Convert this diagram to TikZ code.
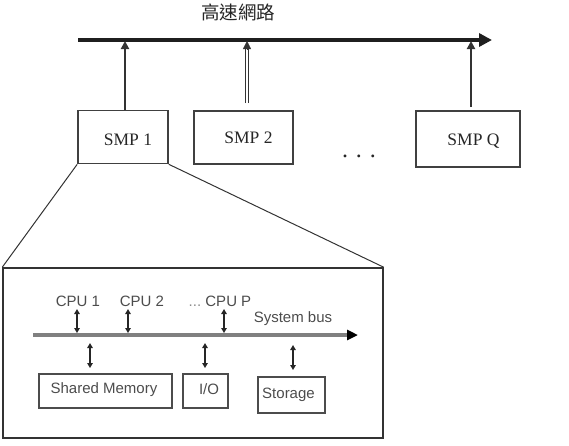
\documentclass[tikz,border=0pt]{standalone}
\usepackage{fontspec}
\setmainfont{Liberation Serif}
\newfontfamily\arialf{Liberation Sans}
\newfontfamily\cjkf{Noto Sans CJK TC}
\usetikzlibrary{arrows.meta}
\begin{document}
\begin{tikzpicture}[x=1pt,y=-1pt,
  smpbox/.style={draw=black!75,line width=1.6pt,minimum width=#1,minimum height=53pt,inner sep=0pt},
  smplab/.style={inner sep=0pt,text=black!85,font=\fontsize{17.5}{18}\selectfont},
  inbox/.style={draw=black!70,line width=1.5pt,inner sep=0pt},
  lab/.style={font=\arialf\fontsize{15}{15}\selectfont,text=black!70,inner sep=0pt},
  uparr/.style={line width=2.4pt,black!80,-{Triangle[length=8pt,width=8pt]}},
  dbl/.style={line width=1.6pt,black!85,{Triangle[length=5pt,width=5.5pt]}-{Triangle[length=5pt,width=5.5pt]}}]
\useasboundingbox (0,0) rectangle (569,445);
\node[font=\cjkf\fontsize{18.5}{18.5}\selectfont,text=black!85] (title) at (238,12) {高速網路};
% top bus
\coordinate (busL) at (78,40);
\coordinate (busR) at (492,40);
\draw[line width=4pt,black!88,-{Triangle[length=13pt,width=13pt]}] (busL) -- (busR);
% SMP boxes
\node[smpbox=90pt] (s1) at (123,137) {};
\node[smpbox=99pt] (s2) at (243.5,137.5) {};
\node[smpbox=104pt,minimum height=56pt] (sq) at (468,139) {};
\node[smplab] (l1) at (128,140) {SMP 1};
\node[smplab] (l2) at (248.5,138) {SMP 2};
\node[smplab] (lq) at (473.5,141) {SMP Q};
\node[font=\fontsize{24}{24}\selectfont,text=black!85] (dots) at (359,156) {. . .};
\coordinate (a1) at (125,41);
\coordinate (a2) at (247,41);
\coordinate (aq) at (471,41);
\coordinate (a2b) at (247,103);
\draw[uparr] (s1.north -| a1) -- (a1);
\draw[line width=1pt,black!80] ([xshift=-1.6pt]a2b) -- ([xshift=-1.6pt,yshift=-7pt]a2);
\draw[line width=1pt,black!80] ([xshift=1.6pt]a2b) -- ([xshift=1.6pt,yshift=-7pt]a2);
\draw[line width=0.1pt,black!80,-{Triangle[length=8pt,width=8pt]}] ([yshift=-8pt]a2) -- (a2);
\draw[uparr] (471,107) -- (aq);
% big box
\node[draw=black!80,line width=1.5pt,minimum width=380pt,minimum height=170pt,inner sep=0pt] (big) at (193,353) {};
\draw[black!80,line width=1pt] (s1.south west) -- (big.north west);
\draw[black!80,line width=1pt] (s1.south east) -- (big.north east);
% inner bus
\coordinate (ibL) at (33,335);
\coordinate (ibR) at (358,335);
\draw[line width=3.6pt,black!50,-{Triangle[length=11pt,width=10pt,fill=black,color=black]}] (ibL) -- (ibR);
\node[lab] (c1) at (78,301) {CPU 1};
\node[lab] (c2) at (142,301) {CPU 2};
\node[lab] (cp) at (220,301) {\textcolor{black!45}{...}\ CPU P};
\node[lab] (sb) at (293,319) {System bus};
\coordinate (c1b) at (77,333);
\coordinate (c2b) at (128,333);
\coordinate (cpb) at (224,333);
\draw[dbl] (77,309) -- (c1b);
\draw[dbl] (128,309) -- (c2b);
\draw[dbl] (224,309) -- (cpb);
% bottom boxes
\node[inbox,minimum width=133pt,minimum height=34pt] (sm) at (105.5,391) {};
\node[inbox,minimum width=45pt,minimum height=34pt] (io) at (205.5,391) {};
\node[inbox,minimum width=67pt,minimum height=36pt] (st) at (291.5,395) {};
\node[lab] (smt) at (104,390) {Shared Memory};
\node[lab] (iot) at (209,389) {I/O};
\node[lab] (stt) at (288.5,395) {Storage};
\draw[dbl] (90,343) -- (90,368);
\draw[dbl] (205,343) -- (205,368);
\draw[dbl] (293,345) -- (293,370);
\end{tikzpicture}
\end{document}
